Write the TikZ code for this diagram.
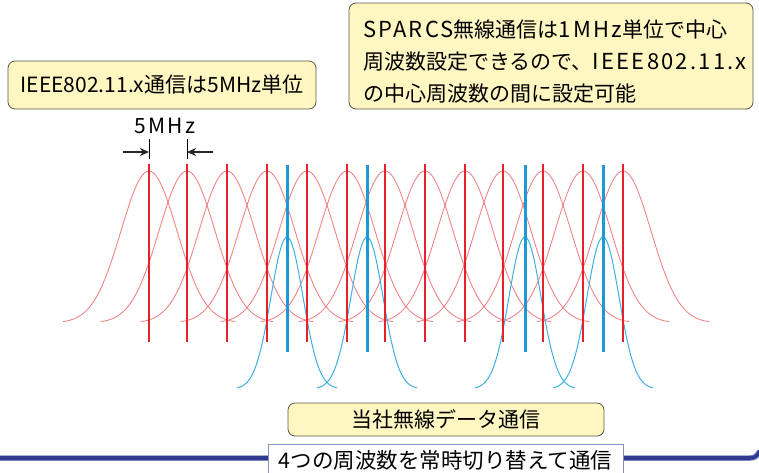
\documentclass[tikz,border=0pt]{standalone}
\usepackage{fontspec}
\setmainfont{Noto Sans CJK JP}
\newfontfamily\latw[LetterSpace=10]{Noto Sans CJK JP}
\usetikzlibrary{arrows.meta}
\definecolor{boxfill}{HTML}{FFF7C2}
\definecolor{boxdraw}{HTML}{5B5448}
\definecolor{redline}{HTML}{E8202A}
\definecolor{redcurve}{HTML}{F07A7E}
\definecolor{blueline}{HTML}{1D9AD6}
\definecolor{bluecurve}{HTML}{3FB0E0}
\definecolor{barblue}{HTML}{2E3A8F}
\definecolor{baredge}{HTML}{7D86C2}
\definecolor{barbox}{HTML}{8A92C8}
\begin{document}
\begin{tikzpicture}[x=1pt,y=-1pt,
  ybox/.style={draw=boxdraw, fill=boxfill, rounded corners=7pt, line width=0.8pt, inner sep=0pt},
  redc/.style={draw=redcurve, line width=0.8pt},
  bluec/.style={draw=bluecurve, line width=1pt},
  redl/.style={draw=redline, line width=1.6pt},
  bluel/.style={draw=blueline, line width=3pt},
  dimtick/.style={draw=black, line width=0.8pt},
  dimarrow/.style={draw=black!85, line width=1.8pt, -{Stealth[length=9pt,width=8pt]}}
]
\useasboundingbox (0,0) rectangle (759,472);

% red spectra
\foreach \cx in {149,187,227,267,307,347,385,425,465,503,543,583,623}{
  \draw[redc] plot[domain=-86:86,samples=90,smooth] ({\cx+\x},{323-152*exp(-((\x)*(\x))/1568)});
}
% blue spectra
\foreach \cx in {287,367,525,603}{
  \draw[bluec] plot[domain=-50:50,samples=70,smooth] ({\cx+\x},{389-152*exp(-((\x)*(\x))/512)});
}
% red centre lines
\foreach \cx in {149,187,227,267,307,347,385,425,465,503,543,583,623}{
  \draw[redl] (\cx,164) -- (\cx,342);
}
% blue centre lines
\foreach \cx in {287,367,525,603}{
  \draw[bluel] (\cx,165) -- (\cx,352);
}

% 5MHz dimension
\coordinate (t1a) at (149,139);
\coordinate (t1b) at (149,159);
\coordinate (t2a) at (187,139);
\coordinate (t2b) at (187,159);
\coordinate (a1s) at (123,152);
\coordinate (a1e) at (149,152);
\coordinate (a2s) at (213,152);
\coordinate (a2e) at (187,152);
\draw[dimtick] (t1a) -- (t1b);
\draw[dimtick] (t2a) -- (t2b);
\draw[dimarrow] (a1s) -- (a1e);
\draw[dimarrow] (a2s) -- (a2e);
\node[font=\latw\fontsize{21}{24}\selectfont, inner sep=0pt] (lab5) at (165,126) {5MHz};

% boxes
\node[ybox, minimum width=308pt, minimum height=48pt, font=\fontsize{21}{24}\selectfont] (box1) at (162,85)
  {IEEE802.11.x通信は5MHz単位};
\node[ybox, minimum width=404pt, minimum height=106pt, font=\fontsize{21}{32}\selectfont] (box2) at (551,56) {};
\node[anchor=west, align=left, inner sep=0pt, font=\fontsize{21}{32}\selectfont] (box2text) at (363,62)
  {{\latw\fontsize{22}{32}\selectfont SPARCS}無線通信は{\latw\fontsize{22}{32}\selectfont 1MHz}単位で中心\\
   周波数設定できるので、{\latw\fontsize{22}{32}\selectfont IEEE802.11.x}\\
   の中心周波数の間に設定可能};
\node[ybox, minimum width=316pt, minimum height=33pt, font=\fontsize{21}{24}\selectfont] (box3) at (446,419.5)
  {当社無線データ通信};

% bottom bar
\coordinate (barL) at (0,458);
\coordinate (barM) at (750,458);
\coordinate (barR) at (760,451);
\draw[baredge, line width=5.5pt] (barL) -- (barM) .. controls (755,458) and (757,456) .. (barR);
\draw[barblue, line width=3.6pt] (barL) -- (barM) .. controls (755,458) and (757,456) .. (barR);
\node[draw=barbox, fill=white, line width=1pt, minimum width=355pt, minimum height=32pt, inner sep=0pt,
  font=\fontsize{21.5}{26}\selectfont] (box4) at (445.5,460)
  {4つの周波数を常時切り替えて通信};
\end{tikzpicture}
\end{document}
